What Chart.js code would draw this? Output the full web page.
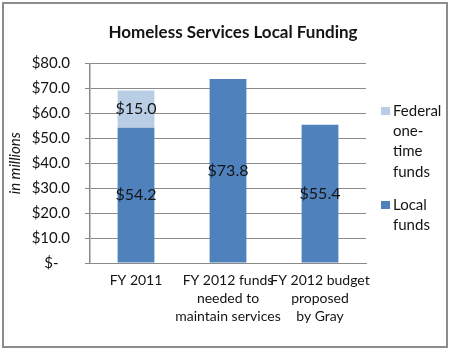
<!DOCTYPE html>
<html><head><meta charset="utf-8">
<script src="https://cdn.jsdelivr.net/npm/chart.js@4"></script>
<style>html,body{margin:0;padding:0;background:#fff}#wrap{width:450px;height:350px;position:relative}</style>
</head><body><div id="wrap"><canvas id="c" width="450" height="350"></canvas></div>
<script>
const categories = [["FY 2011"], ["FY 2012 funds", "needed to", "maintain services"], ["FY 2012 budget", "proposed", "by Gray"]];
const localFunds = [54.2, 73.8, 55.4];
const federalFunds = [15.0, null, null];
const localName = ["Local", "funds"];
const federalName = ["Federal", "one-", "time", "funds"];
const yTicks = [0, 10, 20, 30, 40, 50, 60, 70, 80];
const titleText = "Homeless Services Local Funding";
const yTitle = "in millions";

const FONT = "Lato";
const TEXT = "#141414";
const LOCAL_COLOR = "#4F81BD";
const FED_COLOR = "#B9CDE5";
const GRID = "#8a8a8a";

const fmt = v => '$' + v.toFixed(1);

const decor = {
  id: 'decor',
  beforeDraw(chart) {
    const ctx = chart.ctx;
    ctx.save();
    ctx.fillStyle = '#fff';
    ctx.fillRect(0, 0, chart.width, chart.height);
    ctx.strokeStyle = '#8c8c8c';
    ctx.lineWidth = 2;
    ctx.strokeRect(3, 3, 444, 344);
    ctx.fillStyle = TEXT;
    ctx.font = "bold 17px " + FONT;
    ctx.textAlign = 'center';
    ctx.textBaseline = 'middle';
    ctx.fillText(titleText, 233, 33);
    ctx.restore();
  },
  afterDatasetsDraw(chart) {
    const ctx = chart.ctx;
    ctx.save();
    ctx.font = "16px " + FONT;
    ctx.fillStyle = TEXT;
    ctx.textAlign = 'center';
    ctx.textBaseline = 'middle';
    chart.data.datasets.forEach((ds, i) => {
      const meta = chart.getDatasetMeta(i);
      meta.data.forEach((el, j) => {
        const v = ds.data[j];
        if (v == null) return;
        ctx.fillText(fmt(v), el.x, (el.y + el.base) / 2);
      });
    });
    // legend (federal listed first, as in stacked order)
    const items = [[chart.data.datasets[1], federalName, 107], [chart.data.datasets[0], localName, 201]];
    ctx.font = "15px " + FONT;
    ctx.textAlign = 'left';
    items.forEach(([ds, lines, y]) => {
      ctx.fillStyle = ds.backgroundColor;
      ctx.fillRect(381, y, 9, 8);
      ctx.fillStyle = TEXT;
      lines.forEach((t, k) => ctx.fillText(t, 393, y + 4 + k * 20.3));
    });
    ctx.restore();
  }
};

new Chart(document.getElementById('c'), {
  type: 'bar',
  data: {
    labels: categories,
    datasets: [
      { label: 'Local funds', data: localFunds, backgroundColor: LOCAL_COLOR, stack: 's' },
      { label: 'Federal one-time funds', data: federalFunds, backgroundColor: FED_COLOR, stack: 's' }
    ]
  },
  options: {
    responsive: false,
    devicePixelRatio: 1,
    animation: false,
    layout: { padding: { left: 0, right: 84, top: 63.5, bottom: 0 } },
    categoryPercentage: 0.8,
    barPercentage: 0.5,
    plugins: { legend: { display: false }, title: { display: false }, tooltip: { enabled: false } },
    scales: {
      x: {
        stacked: true,
        grid: { display: false, drawTicks: false },
        border: { display: true, color: GRID, width: 1 },
        ticks: { color: TEXT, font: { family: FONT, size: 14, lineHeight: 1.3 }, padding: 8, maxRotation: 0, autoSkip: false },
        afterFit(s) { s.height = 87; }
      },
      y: {
        stacked: true,
        min: 0, max: 80,
        afterBuildTicks(s) { s.ticks = yTicks.map(v => ({ value: v })); },
        grid: { color: GRID, lineWidth: 1, tickLength: 5 },
        border: { display: true, color: GRID, width: 1.5 },
        ticks: {
          color: TEXT, font: { family: FONT, size: 15 }, padding: 15,
          callback: v => v === 0 ? '$-   ' : fmt(v)
        },
        title: { display: true, text: yTitle, color: TEXT, font: { family: FONT, size: 15, style: 'italic' }, padding: { top: 6, bottom: 0 } },
        afterFit(s) { s.width = 90; }
      }
    }
  },
  plugins: [decor]
});
</script>
</body></html>
